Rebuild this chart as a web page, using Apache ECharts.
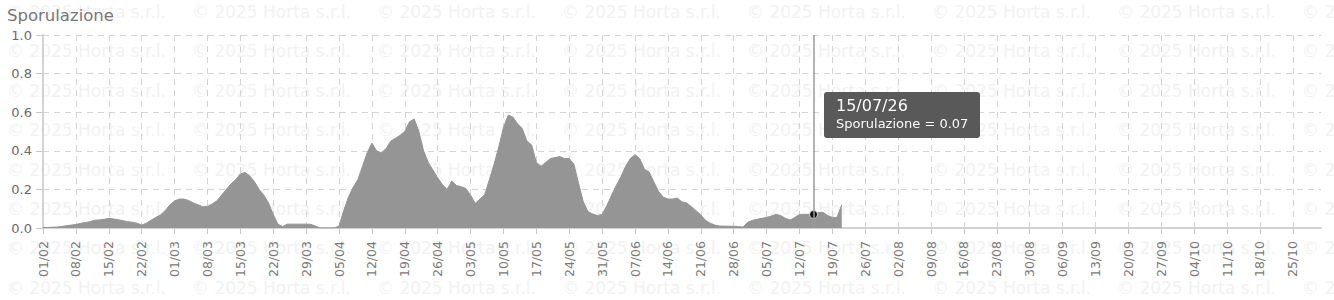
<!DOCTYPE html>
<html>
<head>
<meta charset="utf-8">
<script src="https://cdn.jsdelivr.net/npm/echarts@6/dist/echarts.min.js"></script>
<style>
html,body{margin:0;padding:0;background:#fff;}
#chart{width:1334px;height:300px;}
</style>
</head>
<body>
<div id="chart"></div>
<script>
// ---- data ----
const TITLE = 'Sporulazione';
const SERIES_NAME = 'Sporulazione';
const YEAR = 2026;
const START_MONTH = 2, START_DAY = 1;   // 01/02
const DAY_COUNT = 273;                  // 01/02 .. 31/10
const LABEL_EVERY = 7;                  // weekly ticks
const Y_TICKS = [0, 0.2, 0.4, 0.6, 0.8, 1.0];
const TIP_INDEX = 164;                  // 15/07
const WATERMARK = '\u00A9 2025 Horta s.r.l.';

// daily values from 01/02 to 21/07
const sporulazione = [
  0.003,0.003,0.004,0.005,0.008,0.012,0.015,0.018,0.024,0.028,
  0.033,0.040,0.042,0.045,0.050,0.047,0.043,0.038,0.033,0.030,
  0.025,0.015,0.025,0.040,0.055,0.068,0.090,0.120,0.140,0.150,
  0.150,0.142,0.130,0.120,0.110,0.112,0.125,0.140,0.170,0.200,
  0.228,0.250,0.280,0.288,0.270,0.240,0.200,0.170,0.130,0.070,
  0.020,0.008,0.020,0.020,0.020,0.020,0.020,0.019,0.010,0.000,
  0.000,0.000,0.000,0.010,0.090,0.160,0.210,0.250,0.320,0.390,
  0.440,0.400,0.390,0.410,0.450,0.465,0.480,0.500,0.550,0.565,
  0.500,0.400,0.340,0.300,0.260,0.225,0.200,0.243,0.220,0.214,
  0.205,0.170,0.128,0.150,0.172,0.250,0.330,0.420,0.520,0.585,
  0.575,0.540,0.515,0.450,0.430,0.340,0.320,0.340,0.360,0.365,
  0.370,0.360,0.360,0.330,0.230,0.135,0.085,0.072,0.065,0.070,
  0.115,0.170,0.220,0.265,0.320,0.360,0.380,0.360,0.305,0.290,
  0.240,0.190,0.160,0.150,0.150,0.155,0.135,0.130,0.110,0.090,
  0.068,0.040,0.025,0.015,0.010,0.010,0.009,0.009,0.007,0.005,
  0.030,0.040,0.045,0.050,0.055,0.062,0.070,0.065,0.050,0.041,
  0.055,0.070,0.071,0.070,0.070,0.080,0.081,0.065,0.055,0.055,
  0.120
];

// ---- categories (dd/mm) ----
const pad = n => (n < 10 ? '0' : '') + n;
const categories = [];
const fullDates = [];
for (let i = 0; i < DAY_COUNT; i++) {
  const d = new Date(Date.UTC(YEAR, START_MONTH - 1, START_DAY + i));
  const s = pad(d.getUTCDate()) + '/' + pad(d.getUTCMonth() + 1);
  categories.push(s);
  fullDates.push(s + '/' + String(YEAR).slice(2));
}

// ---- watermark (decorative) ----
const wm = [];
for (let r = 0; r < 8; r++) {
  for (let c = 0; c < 8; c++) {
    wm.push({
      type: 'text', z: -100, silent: true,
      x: 7 + c * 185, y: 12 + r * 39.4,
      style: {
        text: WATERMARK, fill: '#f2f2f2',
        font: '17px "DejaVu Sans"', verticalAlign: 'middle', align: 'left'
      }
    });
  }
}

const chart = echarts.init(document.getElementById('chart'), null, {renderer: 'svg'});
const font = '"DejaVu Sans", Verdana, sans-serif';

chart.setOption({
  animation: false,
  backgroundColor: '#fff',
  textStyle: {fontFamily: font},
  title: {
    text: TITLE, left: 2, top: 2,
    textStyle: {fontSize: 16.5, fontWeight: 'normal', color: '#777', fontFamily: font}
  },
  graphic: wm,
  grid: {left: 43, right: 13, top: 35, bottom: 72, containLabel: false},
  tooltip: {
    trigger: 'axis',
    alwaysShowContent: true,
    transitionDuration: 0,
    padding: 0,
    borderWidth: 0,
    backgroundColor: 'rgba(0,0,0,0)',
    extraCssText: 'box-shadow:none;',
    axisPointer: {
      type: 'line',
      lineStyle: {color: '#9a9a9a', width: 1.5, type: 'solid'},
      label: {show: false}
    },
    position: function (point) { return [point[0] + 10, 92]; },
    formatter: function (params) {
      const p = params[0];
      return '<div style="background:#595959;border-radius:3px;padding:4px 12px 6px 12px;color:#fafafa;font-family:DejaVu Sans,Verdana,sans-serif;">' +
        '<div style="font-size:16px;line-height:20px;">' + fullDates[p.dataIndex] + '</div>' +
        '<div style="font-size:13px;line-height:16px;">' + p.seriesName + ' = ' + Number(p.value).toFixed(2) + '</div></div>';
    }
  },
  xAxis: {
    type: 'category',
    data: categories,
    boundaryGap: false,
    axisLine: {show: true, lineStyle: {color: '#d2d2d2', width: 2}},
    axisTick: {
      show: true, length: 6,
      interval: (i) => i % LABEL_EVERY === 0,
      lineStyle: {color: '#c8c8c8', width: 1}
    },
    axisLabel: {
      interval: (i) => i % LABEL_EVERY === 0,
      rotate: 90, margin: 13,
      color: '#7a7a7a', fontSize: 12.5, fontFamily: font
    },
    splitLine: {
      show: true,
      interval: (i) => i % LABEL_EVERY === 0,
      lineStyle: {color: '#d4d4d4', type: [6, 5], width: 1}
    }
  },
  yAxis: {
    type: 'value',
    min: Y_TICKS[0], max: Y_TICKS[Y_TICKS.length - 1], interval: 0.2,
    axisLine: {show: true, lineStyle: {color: '#d2d2d2', width: 2}},
    axisTick: {show: true, length: 7, lineStyle: {color: '#c8c8c8'}},
    axisLabel: {
      margin: 11, color: '#6a6a6a', fontSize: 13, fontFamily: font,
      formatter: v => v.toFixed(1)
    },
    splitLine: {show: true, lineStyle: {color: '#d4d4d4', type: [6, 5], width: 1}}
  },
  series: [{
    name: SERIES_NAME,
    type: 'line',
    data: sporulazione,
    showSymbol: false,
    symbol: 'circle',
    symbolSize: 8,
    smooth: false,
    lineStyle: {color: '#888888', width: 1},
    areaStyle: {color: '#959595', opacity: 1},
    itemStyle: {color: '#111', borderColor: '#ddd', borderWidth: 1},
    emphasis: {scale: false, focus: 'none', lineStyle: {width: 1}, areaStyle: {color: '#959595', opacity: 1}, itemStyle: {color: '#111', borderColor: '#ddd', borderWidth: 1}},
    z: 3
  }]
});

function showTip() {
  chart.dispatchAction({type: 'showTip', seriesIndex: 0, dataIndex: TIP_INDEX});
}
showTip();
setTimeout(showTip, 50);
</script>
</body>
</html>
